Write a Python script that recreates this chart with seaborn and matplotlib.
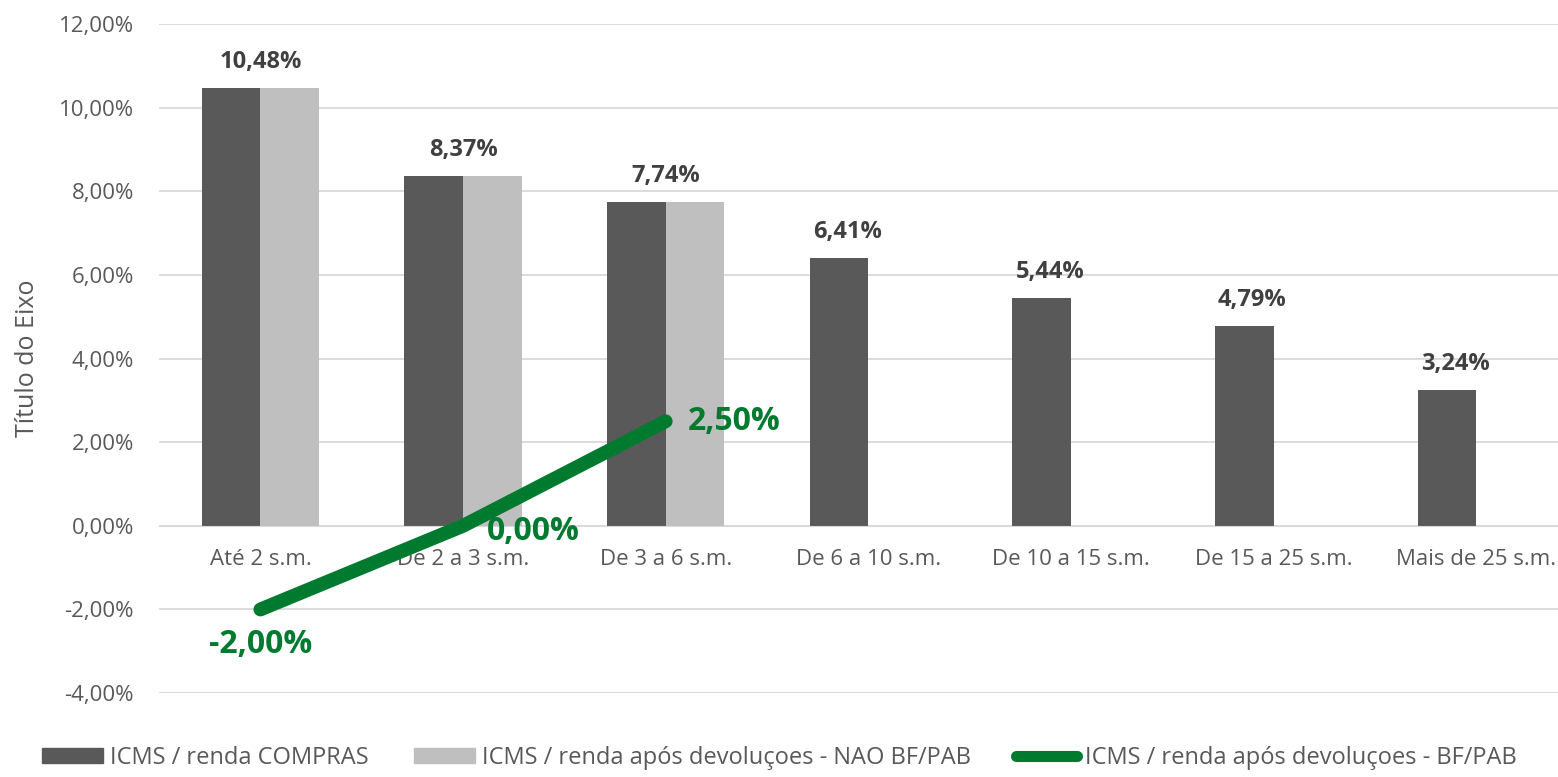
import numpy as np
import pandas as pd
import matplotlib
matplotlib.use('Agg')
import matplotlib.pyplot as plt
import seaborn as sns
from matplotlib.patches import Patch
from matplotlib.lines import Line2D

categories = ['Até 2 s.m.', 'De 2 a 3 s.m.', 'De 3 a 6 s.m.', 'De 6 a 10 s.m.',
              'De 10 a 15 s.m.', 'De 15 a 25 s.m.', 'Mais de 25 s.m.']
compras = [10.48, 8.37, 7.74, 6.41, 5.44, 4.79, 3.24]
nao_bf = [10.48, 8.37, 7.74, np.nan, np.nan, np.nan, np.nan]
bf_pab = [-2.00, 0.00, 2.50]

s1 = 'ICMS / renda COMPRAS'
s2 = 'ICMS / renda após devoluçoes - NAO BF/PAB'
s3 = 'ICMS / renda após devoluçoes - BF/PAB'

dark = '#595959'
light = '#bfbfbf'
green = '#007a2f'
txt = '#595959'

sns.set_style('white')
plt.rcParams['font.family'] = ['Open Sans', 'DejaVu Sans']

df = pd.DataFrame({
    'cat': categories * 2,
    'val': compras + nao_bf,
    'serie': [s1] * len(categories) + [s2] * len(categories),
})

fig = plt.figure(figsize=(15.58, 7.77), dpi=100)
# plot area runs past the right edge of the figure, like the original
ax = fig.add_axes([0.1021, 0.108, 0.9105, 0.861])

sns.barplot(data=df, x='cat', y='val', hue='serie', palette=[dark, light],
            width=0.58, saturation=1, linewidth=0, ax=ax, legend=False)

ax.set_ylim(-4, 12)
ax.set_xlim(-0.5, len(categories) - 0.5)
yt = np.arange(-4, 12.01, 2)
ax.set_yticks(yt)
ax.set_yticklabels([f'{v:.2f}%'.replace('.', ',') for v in yt])
ax.grid(axis='y', color='#d9d9d9', linewidth=1.3)
ax.set_axisbelow(True)
for sp in ['top', 'right', 'left']:
    ax.spines[sp].set_visible(False)
ax.spines['bottom'].set_position(('data', 0))
ax.spines['bottom'].set_color('#d9d9d9')
ax.tick_params(axis='both', length=0, labelsize=16, colors=txt)
ax.tick_params(axis='y', pad=18)
ax.tick_params(axis='x', pad=17)
ax.set_xlabel('')
ax.set_ylabel('Título do Eixo', fontsize=18, color=txt, labelpad=14)

# value labels
dark_bars = ax.patches[:len(categories)]
for i, (b, v) in enumerate(zip(dark_bars, compras)):
    if i < 3:
        xc = i
    else:
        xc = b.get_x() + b.get_width() / 2 + 0.04
    ax.annotate(f'{v:.2f}%'.replace('.', ','), (xc, v), xytext=(0, 10),
                textcoords='offset points', ha='center', va='bottom',
                fontsize=17, fontweight='bold', color='#404040')

# green line
xl = np.arange(len(bf_pab))
ax.plot(xl, bf_pab, color=green, linewidth=10, solid_capstyle='round', zorder=5)
lab = [f'{v:.2f}%'.replace('.', ',') for v in bf_pab]
ax.annotate(lab[0], (xl[0], bf_pab[0]), xytext=(0, -13), textcoords='offset points',
            ha='center', va='top', fontsize=23, fontweight='bold', color=green, zorder=6)
ax.annotate(lab[1], (xl[1], bf_pab[1]), xytext=(17, -4), textcoords='offset points',
            ha='left', va='center', fontsize=23, fontweight='bold', color=green, zorder=6)
ax.annotate(lab[2], (xl[2], bf_pab[2]), xytext=(16, 0), textcoords='offset points',
            ha='left', va='center', fontsize=23, fontweight='bold', color=green, zorder=6)

handles = [Patch(color=dark), Patch(color=light),
           Line2D([0], [0], color=green, linewidth=8, solid_capstyle='round')]
fig.legend(handles, [s1, s2, s3], loc='lower center', bbox_to_anchor=(0.5, -0.018),
           ncol=3, frameon=False, fontsize=17, labelcolor=txt,
           handlelength=2.6, handleheight=0.6, handletextpad=0.3, columnspacing=1.9)

fig.savefig('out.png', dpi=100)
